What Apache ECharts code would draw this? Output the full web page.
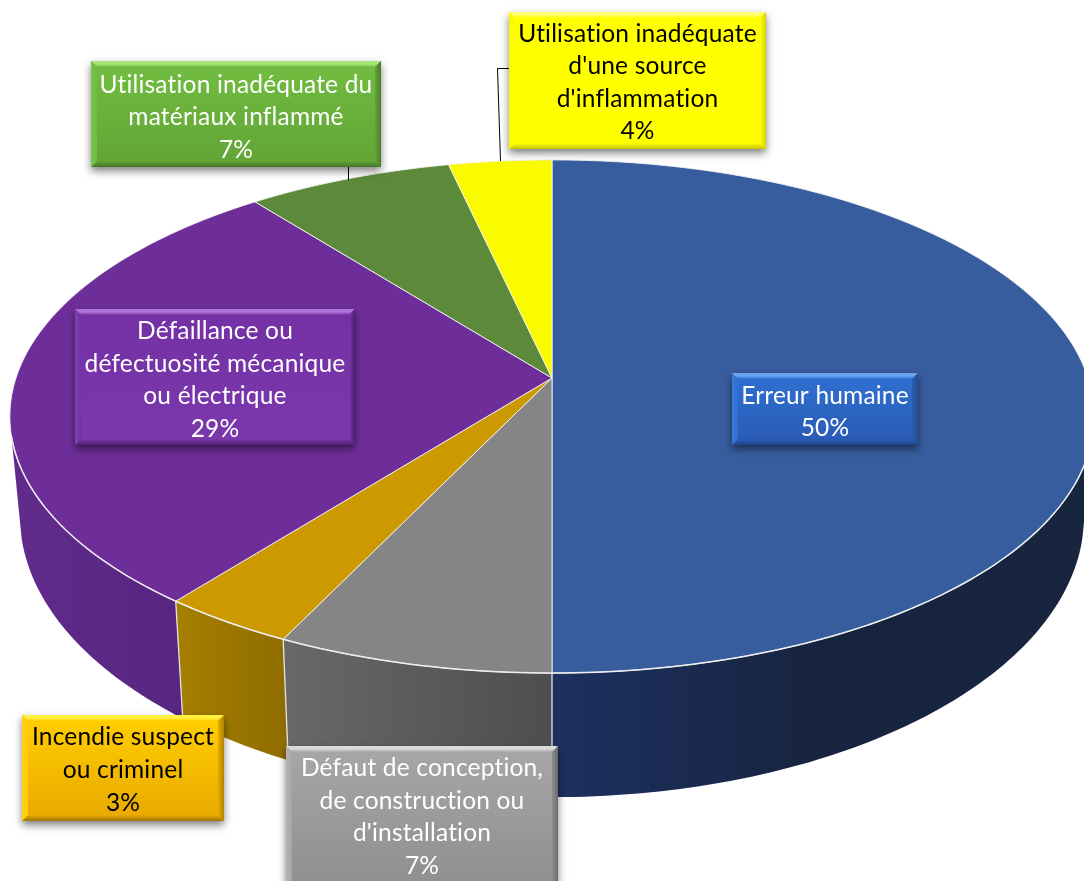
<!DOCTYPE html>
<html>
<head>
<meta charset="utf-8">
<style>html,body{margin:0;padding:0;background:#fff;overflow:hidden}#c{width:1084px;height:881px}</style>
<script src="https://cdn.jsdelivr.net/npm/echarts@6/dist/echarts.min.js"></script>
</head>
<body>
<div id="c"></div>
<script>
// ---- data ----
const categories = [
  "Erreur humaine",
  "Défaut de conception,\nde construction ou\nd'installation",
  "Incendie suspect\nou criminel",
  "Défaillance ou\ndéfectuosité mécanique\nou électrique",
  "Utilisation inadéquate du\nmatériaux inflammé",
  "Utilisation inadéquate\nd'une source\nd'inflammation"
];
const values = [50, 7.14, 3.49, 28.74, 7.08, 3.55];

// ---- styles ----
const topColors = ['#385D9F', '#858585', '#CC9900', '#6E2E9A', '#5C8A3A', '#FBFB00'];
const wallColors = [
  ['#1D3060', '#17243F', '#18253F'],
  ['#686868', '#4E4E4E'],
  ['#A67F00', '#8F6C00'],
  ['#612B8C', '#572680'],
  null, null
];
const wallRanges = [[103, 180], null, null, [0, 257], null, null];
const textColors = ['#fff', '#fff', '#000', '#fff', '#fff', '#000'];
const boxStyles = [
  {c: ['#2F6FD0', '#2A5CB6'], t: '#6AA2F0', b: '#1F4488', l: '#3F7AD6', r: '#234C93'},
  {c: ['#A6A6A6', '#8F8F8F'], t: '#DADADA', b: '#686868', l: '#B4B4B4', r: '#6A6A6A'},
  {c: ['#FFCC00', '#E9AB00'], t: '#FFF040', b: '#A07600', l: '#FFD21A', r: '#B08400'},
  {c: ['#7430A5', '#7B38AC'], t: '#AE74DA', b: '#4C2270', l: '#8244B2', r: '#4A1F6E'},
  {c: ['#70BC40', '#63A536'], t: '#A8E67A', b: '#45722A', l: '#7AC44C', r: '#4A7A2C'},
  {c: ['#FFFF00', '#FFFF00'], t: '#FFFF70', b: '#C4C400', l: '#F8F800', r: '#D4D400'}
];
// label boxes: [x, y, w, h, text centre y]
const boxLayout = [
  [732, 373, 186, 72, 412],
  [286, 746, 272, 146, 817],
  [22, 715, 202, 106, 770],
  [75, 309, 280, 136, 380],
  [91, 61, 290, 106, 117.5],
  [509, 12, 257, 137, 82.5]
];
const leaderLayout = {
  4: [[348.5, 167], [348.5, 180]],
  5: [[509, 68.5], [497.5, 68.5], [500.5, 161]]
};
const BEVEL = 6;
const FONT_SIZE = 24.5;
const LINE_HEIGHT = 32.6;

// Wider tracking like the reference; also turns off Lato's "ti" ligature.
const nativeGetContext = HTMLCanvasElement.prototype.getContext;
HTMLCanvasElement.prototype.getContext = function () {
  const ctx = nativeGetContext.apply(this, arguments);
  if (ctx && 'letterSpacing' in ctx) ctx.letterSpacing = '0.18px';
  return ctx;
};

// ---- perspective disc ----
const topRing = {cx: 552, a: 378, R: 536, H: 250.8, k: 0.15};
const bottomRing = {cx: 552, a: 474, R: 526, H: 274.7, k: 0.15};
function project(ring, deg) {
  const t = deg * Math.PI / 180;
  const y = -Math.cos(t);
  const s = 1 / (1 - ring.k * y);
  return [ring.cx + ring.R * Math.sin(t) * s, ring.a + ring.H * y * s];
}
function arc(ring, from, to) {
  const pts = [];
  const n = Math.max(2, Math.ceil(Math.abs(to - from)));
  for (let i = 0; i <= n; i++) pts.push(project(ring, from + (to - from) * i / n));
  return pts;
}
function hGrad(stops) {
  return {type: 'linear', x: 0, y: 0, x2: 1, y2: 0,
    colorStops: stops.map((c, i) => ({offset: i / (stops.length - 1), color: c}))};
}
function vGrad(stops) {
  return {type: 'linear', x: 0, y: 0, x2: 0, y2: 1,
    colorStops: stops.map((c, i) => ({offset: i / (stops.length - 1), color: c}))};
}

const total = values.reduce((a, b) => a + b, 0);
let acc = 0;
const sliceData = values.map((v, i) => {
  const start = acc / total * 360;
  acc += v;
  return [start, acc / total * 360, i, v];
});

function renderWall(params, api) {
  const i = api.value(2);
  const colors = wallColors[i];
  if (!colors) return null;
  let from = api.value(0), to = api.value(1);
  const range = wallRanges[i];
  if (range) { from = Math.max(from, range[0]); to = Math.min(to, range[1]); }
  if (to <= from) return null;
  const upper = arc(topRing, from, to);
  const lower = arc(bottomRing, from, to);
  const children = [{
    type: 'polygon',
    shape: {points: upper.concat(lower.slice().reverse())},
    style: {fill: hGrad(colors)}
  }];
  // white seam at the start of each inner wall
  if (from > 170 && from < 250) {
    children.push({type: 'line',
      shape: {x1: upper[0][0], y1: upper[0][1], x2: lower[0][0], y2: lower[0][1]},
      style: {stroke: '#E4E4E4', lineWidth: 1.3}});
  }
  return {type: 'group', children};
}

function renderTop(params, api) {
  const i = api.value(2);
  const from = api.value(0), to = api.value(1);
  const apex = [topRing.cx, topRing.a];
  const rim = arc(topRing, from, to);
  const children = [{
    type: 'polygon',
    shape: {points: [apex].concat(rim)},
    style: {fill: topColors[i], stroke: '#F2F2F2', lineWidth: 0.9, lineJoin: 'round'}
  }];
  const rimFrom = Math.max(from, 103), rimTo = Math.min(to, 257);
  if (rimTo > rimFrom) {
    children.push({type: 'polyline', shape: {points: arc(topRing, rimFrom, rimTo)},
      style: {stroke: '#EDEDED', lineWidth: 1.5, fill: null}});
  }
  return {type: 'group', children};
}

function renderLabel(params, api) {
  const i = api.value(2);
  const [x, y, w, h, ty] = boxLayout[i];
  const st = boxStyles[i];
  const b = BEVEL, r = x + w, d = y + h;
  const children = [];
  const lead = leaderLayout[i];
  if (lead) children.push({type: 'polyline', shape: {points: lead}, style: {stroke: '#000', lineWidth: 1, fill: null}});
  children.push(
    {type: 'rect', shape: {x, y, width: w, height: h},
      style: {fill: st.c[0], shadowBlur: 8, shadowColor: 'rgba(0,0,0,0.5)', shadowOffsetX: 0, shadowOffsetY: 4}},
    {type: 'polygon', shape: {points: [[x, y], [r, y], [r - b, y + b], [x + b, y + b]]},
      style: {fill: vGrad([st.t, st.t, st.c[0]])}},
    {type: 'polygon', shape: {points: [[x, d], [r, d], [r - b, d - b], [x + b, d - b]]},
      style: {fill: vGrad([st.c[1], st.b])}},
    {type: 'polygon', shape: {points: [[x, y], [x + b, y + b], [x + b, d - b], [x, d]]},
      style: {fill: hGrad([st.l, st.c[0]])}},
    {type: 'polygon', shape: {points: [[r, y], [r - b, y + b], [r - b, d - b], [r, d]]},
      style: {fill: hGrad([st.c[1], st.r])}},
    {type: 'rect', shape: {x: x + b, y: y + b, width: w - 2 * b, height: h - 2 * b},
      style: {fill: vGrad(st.c)}},
    {type: 'text', x: x + w / 2, y: ty,
      style: {
        text: categories[i] + '\n' + Math.round(api.value(3)) + '%',
        fill: textColors[i], align: 'center', verticalAlign: 'middle',
        font: FONT_SIZE + 'px Lato, "Open Sans", sans-serif', lineHeight: LINE_HEIGHT
      }}
  );
  return {type: 'group', children};
}

const chart = echarts.init(document.getElementById('c'), null, {renderer: 'canvas'});
chart.setOption({
  animation: false,
  backgroundColor: '#fff',
  tooltip: {show: false},
  series: [
    {type: 'custom', coordinateSystem: 'none', silent: true, z: 1, clip: false, renderItem: renderWall, data: sliceData},
    {type: 'custom', coordinateSystem: 'none', silent: true, z: 2, clip: false, renderItem: renderTop, data: sliceData},
    {type: 'custom', coordinateSystem: 'none', silent: true, z: 3, clip: false, renderItem: renderLabel, data: sliceData}
  ]
});
</script>
</body>
</html>
